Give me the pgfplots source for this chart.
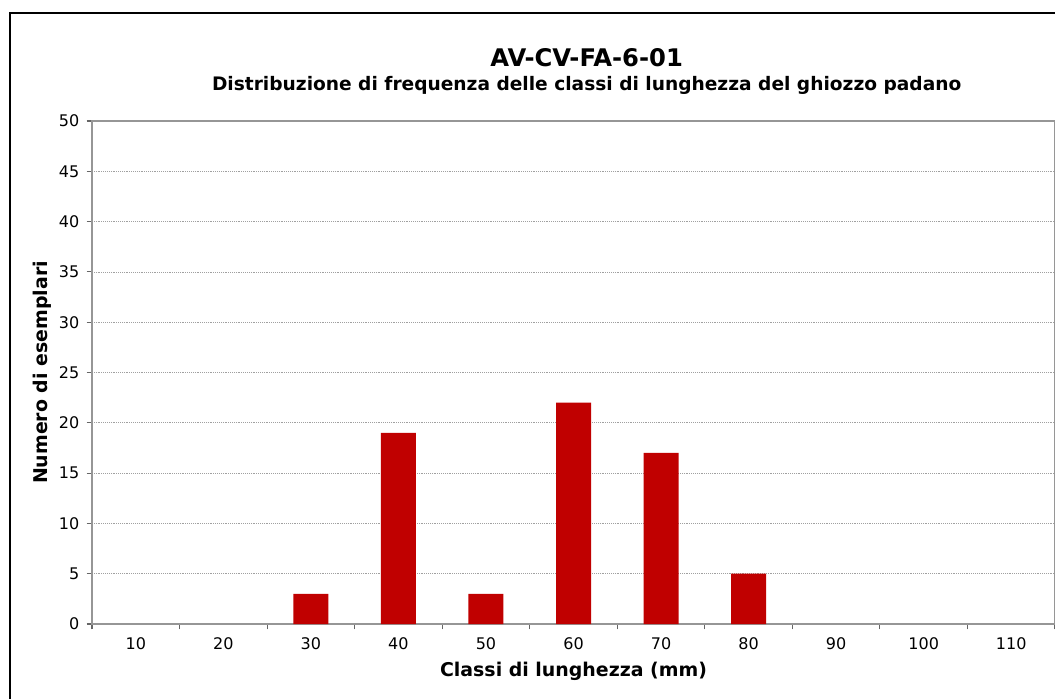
\documentclass[border=0pt]{standalone}
\usepackage{fontspec}
\setmainfont{DejaVu Sans}
\usepackage{pgfplots}
\pgfplotsset{compat=1.18}
\definecolor{barred}{RGB}{192,0,0}
\definecolor{axgray}{RGB}{150,150,150}
\definecolor{gridgray}{RGB}{160,160,160}
\begin{document}
\begin{tikzpicture}
% 1 px of the reference = 0.75pt
\path[use as bounding box] (0,0) rectangle (791.25pt,524.25pt);
\draw[black, line width=2.2pt] (7.5pt,0) -- (7.5pt,514.5pt) -- (792pt,514.5pt);
\begin{axis}[
    at={(69pt,56.25pt)}, anchor=south west,
    scale only axis,
    width=722.25pt, height=377.25pt,
    xmin=-0.5, xmax=10.5,
    ymin=0, ymax=50,
    ytick={0,5,...,50},
    xtick={-0.5,0.5,...,10.5},
    x tick label as interval,
    xticklabels={10,20,30,40,50,60,70,80,90,100,110},
    tick align=outside,
    tick pos=left,
    major tick length=4pt,
    ymajorgrids,
    grid style={densely dotted, gridgray, line width=0.6pt},
    axis line style={axgray, line width=1.2pt},
    x axis line style={black!65, line width=1.2pt},
    tick style={black!60, line width=0.8pt},
    ticklabel style={font=\fontsize{12}{14}\selectfont},
    /pgf/number format/assume math mode=true,
    xlabel={\bfseries Classi di lunghezza (mm)},
    ylabel={\bfseries Numero di esemplari},
    xlabel style={font=\fontsize{14.2}{17}\selectfont, at={(axis description cs:0.5,0)}, anchor=base, yshift=-39.5pt},
    ylabel style={font=\fontsize{14.2}{17}\selectfont, at={(axis description cs:0,0.5)}, anchor=center, yshift=37.5pt},
    xticklabel style={yshift=-3pt},
    yticklabel style={xshift=-2pt},
    ybar, bar width=0.4, bar shift=0pt,
]
% classes 10..110 mm at 0..10; classes with no fish (10, 20, 90, 100, 110) have no bar
\addplot[fill=barred, draw=none] coordinates {
(2,3) (3,19) (4,3) (5,22) (6,17) (7,5)};
\end{axis}
\node[font=\bfseries\fontsize{18.2}{21}\selectfont, anchor=base] at (440pt,474.2pt) {AV-CV-FA-6-01};
\node[font=\bfseries\fontsize{13.95}{16}\selectfont, anchor=base] at (440pt,456pt) {Distribuzione di frequenza delle classi di lunghezza del ghiozzo padano};
\end{tikzpicture}
\end{document}
